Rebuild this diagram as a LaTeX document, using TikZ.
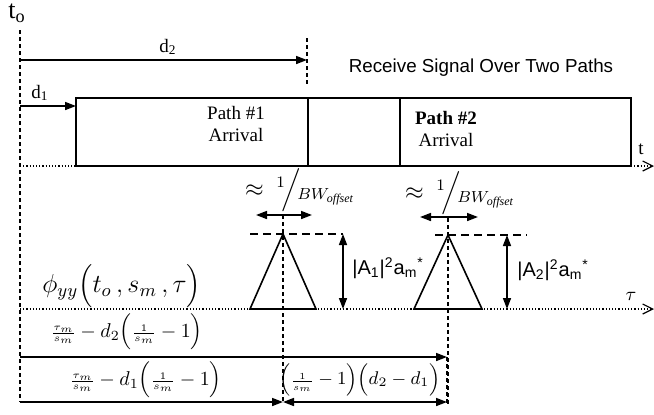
\RequirePackage{fix-cm}
\documentclass[tikz,border=0pt]{standalone}
\usepackage{amsmath}
\usepackage{fontspec}
\setmainfont{Liberation Serif}
\newfontfamily\arialf{Liberation Sans}
\usetikzlibrary{arrows.meta}
\newcommand{\tinyfrac}[2]{{\scriptstyle\frac{#1}{#2}}}

\begin{document}
\begin{tikzpicture}[x=0.5pt,y=-0.5pt,
  dim/.style={-{Triangle[length=5.5pt,width=4pt]}, thick},
  ddim/.style={{Triangle[length=5.5pt,width=4pt]}-{Triangle[length=5.5pt,width=4pt]}, thick},
  axis/.style={densely dotted, semithick, -{Straight Barb[length=5pt,width=5pt]}},
  guide/.style={dash pattern=on 2pt off 1.5pt, semithick},
  peak/.style={dash pattern=on 4pt off 2.5pt, thick},
  lbl/.style={font=\fontsize{9.5}{11}\selectfont, inner sep=0pt, align=center},
  amp/.style={font=\arialf\fontsize{10}{12}\selectfont, inner sep=0pt, anchor=west},
  eq/.style={font=\fontsize{10}{12}\selectfont, inner sep=0pt},
  bw/.style={font=\fontsize{12}{14}\selectfont, inner sep=0pt}]
  \useasboundingbox (0,0) rectangle (654,414);
  % time reference and delays
  \node[font=\fontsize{13}{15}\selectfont, inner sep=0pt] (to) at (17,13) {t\textsubscript{o}};
  \coordinate (top) at (20,30);   \coordinate (bot) at (20,402);
  \draw[guide] (top) -- (bot);
  \coordinate (d2a) at (20,60);   \coordinate (d2b) at (307,60);
  \draw[dim] (d2a) -- (d2b);
  \node[lbl] (d2) at (168,47) {d\textsubscript{2}};
  \draw[guide] (307,38) -- (307,84);
  \coordinate (d1a) at (20,106);  \coordinate (d1b) at (76,106);
  \draw[dim] (d1a) -- (d1b);
  \node[lbl] (d1) at (40,93) {d\textsubscript{1}};
  \node[font=\arialf\fontsize{9.4}{11}\selectfont, inner sep=0pt] (title) at (481,68) {Receive Signal Over Two Paths};
  % received signal
  \draw[thick] (76,98) rectangle (631,166);
  \draw[thick] (308,98) -- (308,166) (400,98) -- (400,166);
  \node[lbl] (p1) at (236,124) {Path \#1\\Arrival};
  \node[lbl] (p2) at (446,129) {\textbf{Path \#2}\\Arrival};
  \draw[densely dotted, semithick] (20,166) -- (76,166);
  \coordinate (tend) at (654,166);
  \draw[axis] (631,166) -- (tend);
  \node[lbl] (t) at (641,149) {t};
  % correlation peaks
  \node[bw] (bw1) at (300,190) {$\approx\ {}^{1}\!\Big/\!{}_{BW_{\mathit{offset}}}$};
  \node[bw] (bw2) at (460,193) {$\approx\ {}^{1}\!\Big/\!{}_{BW_{\mathit{offset}}}$};
  \draw[ddim] (256,215) -- (312,215);
  \draw[ddim] (420,217) -- (478,217);
  \draw[guide] (283,215) -- (283,402);
  \draw[guide] (448,218) -- (448,406);
  \draw[peak] (250,234) -- (343,234) (435,235) -- (527,235);
  \draw[thick] (250,309) -- (283,234) -- (316,309) -- cycle;
  \draw[thick] (414,309) -- (448,235) -- (482,309) -- cycle;
  \coordinate (a1t) at (343,234); \coordinate (a1b) at (343,309);
  \draw[ddim] (a1t) -- (a1b);
  \coordinate (a2t) at (507,235); \coordinate (a2b) at (507,309);
  \draw[ddim] (a2t) -- (a2b);
  \node[amp] (A1) at (352,268) {|A\textsubscript{1}|\textsuperscript{2}a\textsubscript{m}\textsuperscript{*}};
  \node[amp] (A2) at (517,270) {|A\textsubscript{2}|\textsuperscript{2}a\textsubscript{m}\textsuperscript{*}};
  \coordinate (tau0) at (20,309); \coordinate (tau1) at (654,309);
  \draw[axis] (tau0) -- (tau1);
  \node[lbl] (tau) at (631,296) {$\tau$};
  \node[font=\fontsize{13}{15}\selectfont, inner sep=0pt, anchor=west] (phi) at (42,286) {$\phi_{yy}\Bigl(t_o\,, s_m\,, \tau\Bigr)$};
  % offsets on the tau axis
  \coordinate (r1a) at (20,357); \coordinate (r1b) at (447,357);
  \draw[dim] (r1a) -- (r1b);
  \node[eq] (e1) at (127,332) {$\tinyfrac{\tau_m}{s_m}-d_2\Bigl(\tinyfrac{1}{s_m}-1\Bigr)$};
  \coordinate (r2a) at (20,402); \coordinate (r2b) at (283,402); \coordinate (r2c) at (447,402);
  \draw[dim] (r2a) -- (r2b);
  \draw[ddim] (r2b) -- (r2c);
  \node[eq] (e2) at (146,380) {$\tinyfrac{\tau_m}{s_m}-d_1\Bigl(\tinyfrac{1}{s_m}-1\Bigr)$};
  \node[eq, font=\fontsize{9.2}{11}\selectfont] (e3) at (360,380) {$\Bigl(\tinyfrac{1}{s_m}-1\Bigr)\Bigl(d_2-d_1\Bigr)$};
  \draw[guide] (447,357) -- (447,406);
\end{tikzpicture}
\end{document}
